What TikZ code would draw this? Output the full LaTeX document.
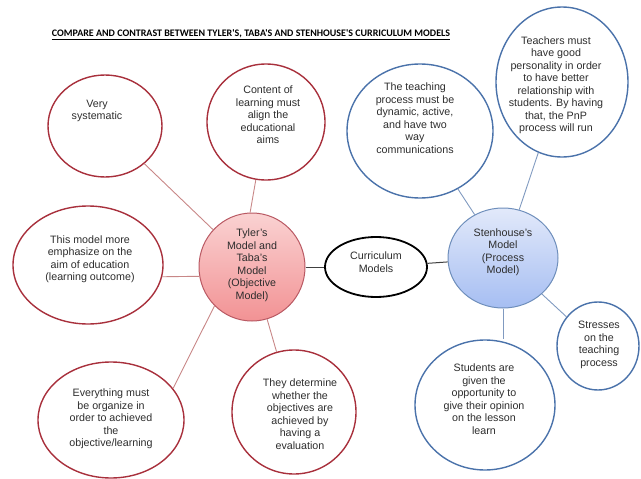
\documentclass[tikz,border=0pt]{standalone}
\usepackage{fontspec}
\setmainfont{Liberation Sans}
\newfontfamily\titlefont{Carlito}
\usetikzlibrary{shapes.geometric}
\definecolor{objred}{RGB}{168,48,60}
\definecolor{objlinecol}{RGB}{200,135,135}
\definecolor{objtop}{RGB}{250,210,210}
\definecolor{objbottom}{RGB}{242,146,148}
\definecolor{procblue}{RGB}{74,114,170}
\definecolor{proclinecol}{RGB}{128,154,192}
\definecolor{proctop}{RGB}{226,233,250}
\definecolor{procbottom}{RGB}{166,190,242}
\definecolor{textgrey}{RGB}{45,45,45}

\begin{document}
\begin{tikzpicture}[x=1pt,y=-1pt,
  bubble/.style={ellipse,line width=1.4pt,inner sep=0pt},
  objbubble/.style={bubble,draw=objred},
  procbubble/.style={bubble,draw=procblue},
  bubbletext/.style={align=center,inner sep=0pt,text=textgrey,
                     font=\fontsize{10.7}{12.5}\selectfont},
  objlink/.style={objlinecol,line width=0.9pt},
  proclink/.style={proclinecol,line width=0.9pt}]
  \useasboundingbox (0,0) rectangle (641,479);
  \node[font=\titlefont\bfseries\fontsize{10}{12}\selectfont] (title) at (251,35)
    {\underline{COMPARE AND CONTRAST BETWEEN TYLER'S, TABA'S AND STENHOUSE'S CURRICULUM MODELS}};

  \node[bubble,draw=black,line width=1.8pt,minimum width=102pt,minimum height=60pt] (curriculum) at (376,267) {};
  \node[bubbletext] (curriculum-text) at (376,262) {Curriculum\\Models};

  \node[objbubble,top color=objtop,bottom color=objbottom,draw=objred!80,line width=1pt,
        minimum width=106pt,minimum height=108pt] (tyler) at (252,267) {};
  \node[bubbletext] (tyler-text) at (252,265) {Tyler's\\Model and\\Taba's\\Model\\(Objective\\Model)};
  \node[objbubble,minimum width=114pt,minimum height=102pt] (systematic) at (105,126) {};
  \node[bubbletext] (systematic-text) at (97,111) {Very\\systematic};
  \node[objbubble,minimum width=118pt,minimum height=116pt] (content) at (266,122) {};
  \node[bubbletext] (content-text) at (268,115) {Content of\\learning must\\align the\\educational\\aims};
  \node[objbubble,minimum width=150pt,minimum height=118pt] (aim) at (88,265) {};
  \node[bubbletext] (aim-text) at (90,259) {This model more\\emphasize on the\\aim of education\\(learning outcome)};
  \node[objbubble,minimum width=146pt,minimum height=116pt] (organize) at (111,420) {};
  \node[bubbletext] (organize-text) at (111,419) {Everything must\\be organize in\\order to achieved\\the\\objective/learning};
  \node[objbubble,minimum width=124pt,minimum height=124pt] (evaluation) at (294,412) {};
  \node[bubbletext] (evaluation-text) at (300,414) {They determine\\whether the\\objectives are\\achieved by\\having a\\evaluation};

  \node[procbubble,top color=proctop,bottom color=procbottom,draw=procblue!80,line width=1pt,
        minimum width=110pt,minimum height=100pt] (sten) at (503,258) {};
  \node[bubbletext] (sten-text) at (503,252) {Stenhouse's\\Model\\(Process\\Model)};
  \node[procbubble,minimum width=146pt,minimum height=134pt] (dynamic) at (420,131) {};
  \node[bubbletext] (dynamic-text) at (415,118) {The teaching\\process must be\\dynamic, active,\\and have two\\way\\communications};
  \node[procbubble,minimum width=132pt,minimum height=150pt] (personality) at (562,82) {};
  \node[bubbletext] (personality-text) at (556,85) {Teachers must\\have good\\personality in order\\to have better\\relationship with\\students. By having\\that, the PnP\\process will run};
  \node[procbubble,minimum width=82pt,minimum height=88pt] (stresses) at (598,346) {};
  \node[bubbletext] (stresses-text) at (599,345) {Stresses\\on the\\teaching\\process};
  \node[procbubble,minimum width=140pt,minimum height=130pt] (opinion) at (485,405) {};
  \node[bubbletext] (opinion-text) at (484,399) {Students are\\given the\\opportunity to\\give their opinion\\on the lesson\\learn};

  \draw[black!75,line width=1pt] (tyler) -- (curriculum);
  \draw[black!75,line width=1pt] (curriculum) -- (sten);
  \draw[objlink] (systematic) -- (tyler);
  \draw[objlink] (content.-100) -- (tyler.92);
  \draw[objlink] (aim.-9) -- (tyler.190);
  \draw[objlink] (organize.27) -- (tyler.-134);
  \draw[objlink] (evaluation) -- (tyler);
  \draw[proclink] (dynamic) -- (sten);
  \draw[proclink] (personality) -- (sten);
  \draw[proclink] (stresses) -- (sten);
  \draw[proclink] (sten.south) -- (sten.south |- opinion.north);
\end{tikzpicture}
\end{document}
